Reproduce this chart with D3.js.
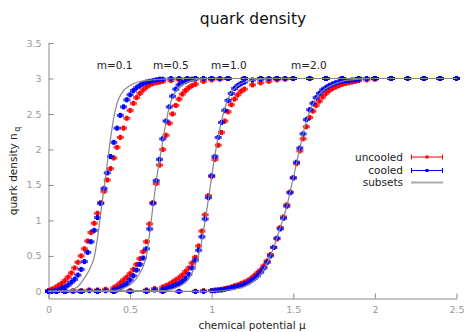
<!DOCTYPE html>
<html>
<head>
<meta charset="utf-8">
<script src="https://cdn.jsdelivr.net/npm/d3@7"></script>
<style>
  body { margin: 0; background: #fff; }
  svg { display: block; font-family: "DejaVu Sans", sans-serif; }
  .axis path, .axis line { stroke: #888; }
  .axis text { fill: #9a9a9a; font-size: 9.5px; font-family: "DejaVu Sans", sans-serif; }
</style>
</head>
<body>
<svg id="chart" width="466" height="332"></svg>
<script>
// ---- data: chemical potential mu -> quark density n_q ----
const xTicks = [0, 0.5, 1, 1.5, 2, 2.5];
const yTicks = [0, 0.5, 1, 1.5, 2, 2.5, 3, 3.5];

const massLabels = ["m=0.1", "m=0.5", "m=1.0", "m=2.0"];
const massLabelMu = [0.405, 0.75, 1.105, 1.595];

// m = 0.1
const m01Mu = [0,0.02,0.04,0.06,0.08,0.1,0.12,0.14,0.16,0.18,0.2,0.22,0.24,0.26,0.28,0.3,0.32,0.34,0.36,0.38,0.4,0.42,0.44,0.46,0.48,0.5,0.52,0.54,0.56,0.58,0.6,0.62,0.64,0.66,0.68,0.7,
  0.75,0.8,0.85,0.9,1,1.1,1.2,1.3,1.4,1.5,1.6,1.7,1.8,1.9,2,2.1,2.2,2.3,2.4,2.5];
const m01Uncooled = [0.01,0.03,0.05,0.08,0.11,0.15,0.2,0.26,0.33,0.41,0.5,0.6,0.71,0.83,0.96,1.1,1.25,1.41,1.57,1.73,1.88,2.03,2.17,2.3,2.44,2.55,2.65,2.73,2.79,2.84,2.88,2.91,2.93,2.94,2.95,2.96,
  2.97,2.98,2.99,2.99,3,3,3,3,3,3,3,3,3,3,3,3,3,3,3,3];
const m01Cooled = [0,0,0.01,0.02,0.04,0.06,0.09,0.13,0.17,0.23,0.31,0.42,0.55,0.7,0.86,1.04,1.24,1.45,1.67,1.9,2.1,2.3,2.48,2.6,2.7,2.77,2.83,2.87,2.9,2.93,2.95,2.96,2.97,2.98,2.99,2.99,
  3,3,3,3,3,3,3,3,3,3,3,3,3,3,3,3,3,3,3,3];
const m01SubMu = [0,0.1,0.14,0.18,0.2,0.22,0.24,0.26,0.28,0.3,0.32,0.34,0.36,0.38,0.4,0.42,0.44,0.46,0.48,0.5,0.55,0.6,0.7,0.8,2.5];
const m01Subsets = [0,0,0.02,0.07,0.12,0.19,0.26,0.35,0.48,0.75,1.1,1.45,1.8,2.15,2.45,2.65,2.76,2.83,2.87,2.9,2.95,2.97,2.99,3,3];

// m = 0.5
const m05Mu = [0,0.05,0.1,0.15,0.2,0.25,0.3,0.35,
  0.4,0.42,0.44,0.46,0.48,0.5,0.52,0.54,0.56,0.58,0.6,0.62,0.64,0.66,0.68,0.7,0.72,0.74,0.76,0.78,0.8,0.82,0.84,0.86,0.88,0.9,
  0.95,1,1.05,1.1,1.2,1.3,1.4,1.5,1.6,1.7,1.8,1.9,2,2.1,2.2,2.3,2.4,2.5];
const m05Uncooled = [0,0,0,0.01,0.01,0.02,0.02,0.03,
  0.05,0.08,0.12,0.16,0.2,0.25,0.31,0.38,0.46,0.56,0.7,0.95,1.25,1.52,1.78,2,2.2,2.37,2.5,2.62,2.71,2.78,2.83,2.87,2.9,2.92,
  2.96,2.98,2.99,3,3,3,3,3,3,3,3,3,3,3,3,3,3,3];
const m05Cooled = [0,0,0,0,0,0.01,0.01,0.01,
  0.02,0.03,0.05,0.08,0.11,0.16,0.22,0.3,0.38,0.47,0.6,0.88,1.24,1.56,1.86,2.15,2.4,2.6,2.75,2.85,2.91,2.94,2.96,2.98,2.99,3,
  3,3,3,3,3,3,3,3,3,3,3,3,3,3,3,3,3,3];
const m05SubMu = [0,0.4,0.44,0.48,0.52,0.56,0.58,0.6,0.62,0.64,0.66,0.68,0.7,0.72,0.74,0.76,0.78,0.8,0.84,0.9,1,2.5];
const m05Subsets = [0,0.01,0.03,0.07,0.13,0.26,0.35,0.5,0.82,1.2,1.55,1.85,2.12,2.38,2.6,2.73,2.82,2.88,2.94,2.98,3,3];

// m = 1.0
const m10Mu = [0,0.1,0.2,0.3,0.4,0.5,0.6,0.65,
  0.7,0.72,0.74,0.76,0.78,0.8,0.82,0.84,0.86,0.88,0.9,0.92,0.94,0.96,0.98,1,1.02,1.04,1.06,1.08,1.1,1.12,1.14,1.16,1.18,1.2,
  1.25,1.3,1.35,1.4,1.45,1.5,1.6,1.7,1.8,1.9,2,2.1,2.2,2.3,2.4,2.5];
const m10Uncooled = [0,0,0,0,0,0.01,0.02,0.04,
  0.06,0.08,0.1,0.13,0.16,0.19,0.23,0.28,0.33,0.4,0.48,0.64,0.85,1.08,1.35,1.62,1.86,2.06,2.24,2.4,2.53,2.63,2.71,2.77,2.82,2.85,
  2.91,2.94,2.96,2.98,2.99,3,3,3,3,3,3,3,3,3,3,3];
const m10Cooled = [0,0,0,0,0,0,0.01,0.02,
  0.03,0.04,0.06,0.07,0.09,0.11,0.14,0.18,0.24,0.33,0.44,0.58,0.77,1.02,1.32,1.63,1.9,2.17,2.38,2.55,2.69,2.79,2.86,2.9,2.93,2.95,
  2.98,2.99,3,3,3,3,3,3,3,3,3,3,3,3,3,3];
const m10SubMu = [0,0.7,0.8,0.86,0.9,0.92,0.94,0.96,0.98,1,1.02,1.04,1.06,1.08,1.1,1.12,1.15,1.2,1.3,1.4,2.5];
const m10Subsets = [0,0.01,0.07,0.18,0.38,0.52,0.72,1,1.3,1.62,1.92,2.18,2.4,2.58,2.71,2.8,2.88,2.95,2.99,3,3];

// m = 2.0
const m20Mu = [0,0.1,0.2,0.3,0.4,0.5,0.6,0.7,0.8,0.9,0.95,
  1,1.02,1.04,1.06,1.08,1.1,1.12,1.14,1.16,1.18,1.2,1.22,1.24,1.26,1.28,1.3,1.32,1.34,1.36,1.38,1.4,
  1.42,1.44,1.46,1.48,1.5,1.52,1.54,1.56,1.58,1.6,1.62,1.64,1.66,1.68,1.7,1.72,1.74,1.76,1.78,1.8,
  1.82,1.84,1.86,1.88,1.9,1.95,2,2.1,2.2,2.3,2.4,2.5];
const m20Uncooled = [0,0,0,0,0,0,0,0,0,0,0.01,
  0.01,0.02,0.02,0.03,0.04,0.05,0.06,0.08,0.09,0.11,0.13,0.15,0.18,0.22,0.26,0.3,0.36,0.43,0.52,0.62,0.74,
  0.9,1.05,1.22,1.4,1.6,1.8,1.98,2.15,2.32,2.45,2.54,2.62,2.68,2.74,2.79,2.83,2.86,2.88,2.9,2.92,
  2.93,2.94,2.95,2.96,2.97,2.98,2.99,3,3,3,3,3];
const m20Cooled = [0,0,0,0,0,0,0,0,0,0,0,
  0.01,0.01,0.02,0.02,0.03,0.04,0.05,0.06,0.07,0.08,0.1,0.12,0.15,0.18,0.22,0.27,0.33,0.41,0.5,0.62,0.75,
  0.88,1.03,1.2,1.39,1.6,1.82,2.02,2.22,2.42,2.56,2.65,2.73,2.79,2.84,2.87,2.9,2.92,2.94,2.95,2.96,
  2.97,2.97,2.98,2.98,2.99,3,3,3,3,3,3,3];
const m20SubMu = [0,1,1.1,1.2,1.26,1.3,1.34,1.38,1.42,1.46,1.5,1.54,1.58,1.62,1.66,1.7,1.75,1.8,1.9,2,2.5];
const m20Subsets = [0,0,0.02,0.07,0.15,0.24,0.4,0.62,0.9,1.2,1.6,2.02,2.4,2.64,2.78,2.86,2.92,2.96,2.99,3,3];

// ---- setup ----
const width = 466, height = 332;
const svg = d3.select("#chart");

const x = d3.scaleLinear().domain([0, 2.5]).range([48.5, 456.5]);
const y = d3.scaleLinear().domain([-0.1, 3.5]).range([298.5, 43]);

function zip(mu, n) {
  if (mu.length !== n.length) console.warn("length mismatch", mu.length, n.length);
  return mu.map((m, i) => ({mu: m, n: n[i]}));
}

const uncooled = [zip(m01Mu, m01Uncooled), zip(m05Mu, m05Uncooled), zip(m10Mu, m10Uncooled), zip(m20Mu, m20Uncooled)];
const cooled = [zip(m01Mu, m01Cooled), zip(m05Mu, m05Cooled), zip(m10Mu, m10Cooled), zip(m20Mu, m20Cooled)];
const subsets = [zip(m01SubMu, m01Subsets), zip(m05SubMu, m05Subsets), zip(m10SubMu, m10Subsets), zip(m20SubMu, m20Subsets)];

// title
svg.append("text")
  .attr("x", 253)
  .attr("y", 24)
  .attr("text-anchor", "middle")
  .style("font-size", "15.5px")
  .style("fill", "#111")
  .text("quark density");

// axes
svg.append("g")
  .attr("class", "axis")
  .attr("transform", "translate(0," + y.range()[0] + ")")
  .call(d3.axisBottom(x).tickValues(xTicks).tickSizeInner(-5).tickSizeOuter(0).tickPadding(8)
    .tickFormat(d3.format("")));

svg.append("g")
  .attr("class", "axis")
  .attr("transform", "translate(" + x.range()[0] + ",0)")
  .call(d3.axisLeft(y).tickValues(yTicks).tickSizeInner(-5).tickSizeOuter(0).tickPadding(7)
    .tickFormat(d3.format("")));

svg.selectAll(".axis .domain").attr("stroke", "#888");

// axis labels
svg.append("text")
  .attr("x", 252)
  .attr("y", 329)
  .attr("text-anchor", "middle")
  .style("font-size", "10.5px")
  .style("fill", "#222")
  .text("chemical potential \u03bc");

const yLabel = svg.append("text")
  .attr("transform", "translate(16.5,171) rotate(-90)")
  .attr("text-anchor", "middle")
  .style("font-size", "10.5px")
  .style("fill", "#222");
yLabel.append("tspan").text("quark density  n");
yLabel.append("tspan").attr("dx", 1.5).attr("dy", 3).style("font-size", "8px").text("q");

// points with tiny error bars
function drawPoints(series, color) {
  const g = svg.append("g");
  series.forEach(s => {
    const p = g.selectAll(null)
      .data(s)
      .enter()
      .append("g")
      .attr("transform", d => "translate(" + x(d.mu) + "," + y(d.n) + ")");
    p.append("rect")
      .attr("x", -3.5).attr("y", -1.5)
      .attr("width", 7).attr("height", 3)
      .attr("fill", color)
      .attr("opacity", 0.75);
    p.append("rect")
      .attr("x", -1.5).attr("y", -2.5)
      .attr("width", 3).attr("height", 5)
      .attr("fill", color);
  });
}

drawPoints(uncooled, "#ff0000");
drawPoints(cooled, "#0000ff");

const line = d3.line()
  .x(d => x(d.mu))
  .y(d => y(d.n))
  .curve(d3.curveMonotoneX);

svg.append("g")
  .selectAll("path")
  .data(subsets)
  .enter()
  .append("path")
  .attr("d", line)
  .attr("fill", "none")
  .attr("stroke", "#888")
  .attr("stroke-width", 1.2);

// mass labels
svg.append("g")
  .selectAll("text")
  .data(massLabels)
  .enter()
  .append("text")
  .attr("x", (d, i) => x(massLabelMu[i]))
  .attr("y", y(3.13))
  .attr("text-anchor", "middle")
  .style("font-size", "10.5px")
  .style("fill", "#222")
  .text(d => d);

// legend
const legendItems = ["uncooled", "cooled", "subsets"];
const legendColors = ["#ff0000", "#0000ff", "#aaaaaa"];
const legend = svg.append("g").attr("transform", "translate(0,157)");

legendItems.forEach((name, i) => {
  const ly = i * 13.5 - (i == 2 ? 1.5 : 0);
  const row = legend.append("g").attr("transform", "translate(0," + ly + ")");
  row.append("text")
    .attr("x", 403)
    .attr("y", 0)
    .attr("dy", "0.35em")
    .attr("text-anchor", "end")
    .style("font-size", "10.5px")
    .style("fill", "#222")
    .text(name);
  if (i < 2) {
    row.append("path")
      .attr("d", "M411,0H443M411.5,-2.5V2.5M442.5,-2.5V2.5")
      .attr("stroke", legendColors[i])
      .attr("stroke-width", 1)
      .attr("fill", "none");
    row.append("rect")
      .attr("x", 425.5).attr("y", -1.5)
      .attr("width", 3).attr("height", 3)
      .attr("fill", legendColors[i]);
  } else {
    row.append("path")
      .attr("d", "M411,0H443")
      .attr("stroke", legendColors[i])
      .attr("stroke-width", 2);
  }
});
</script>
</body>
</html>
